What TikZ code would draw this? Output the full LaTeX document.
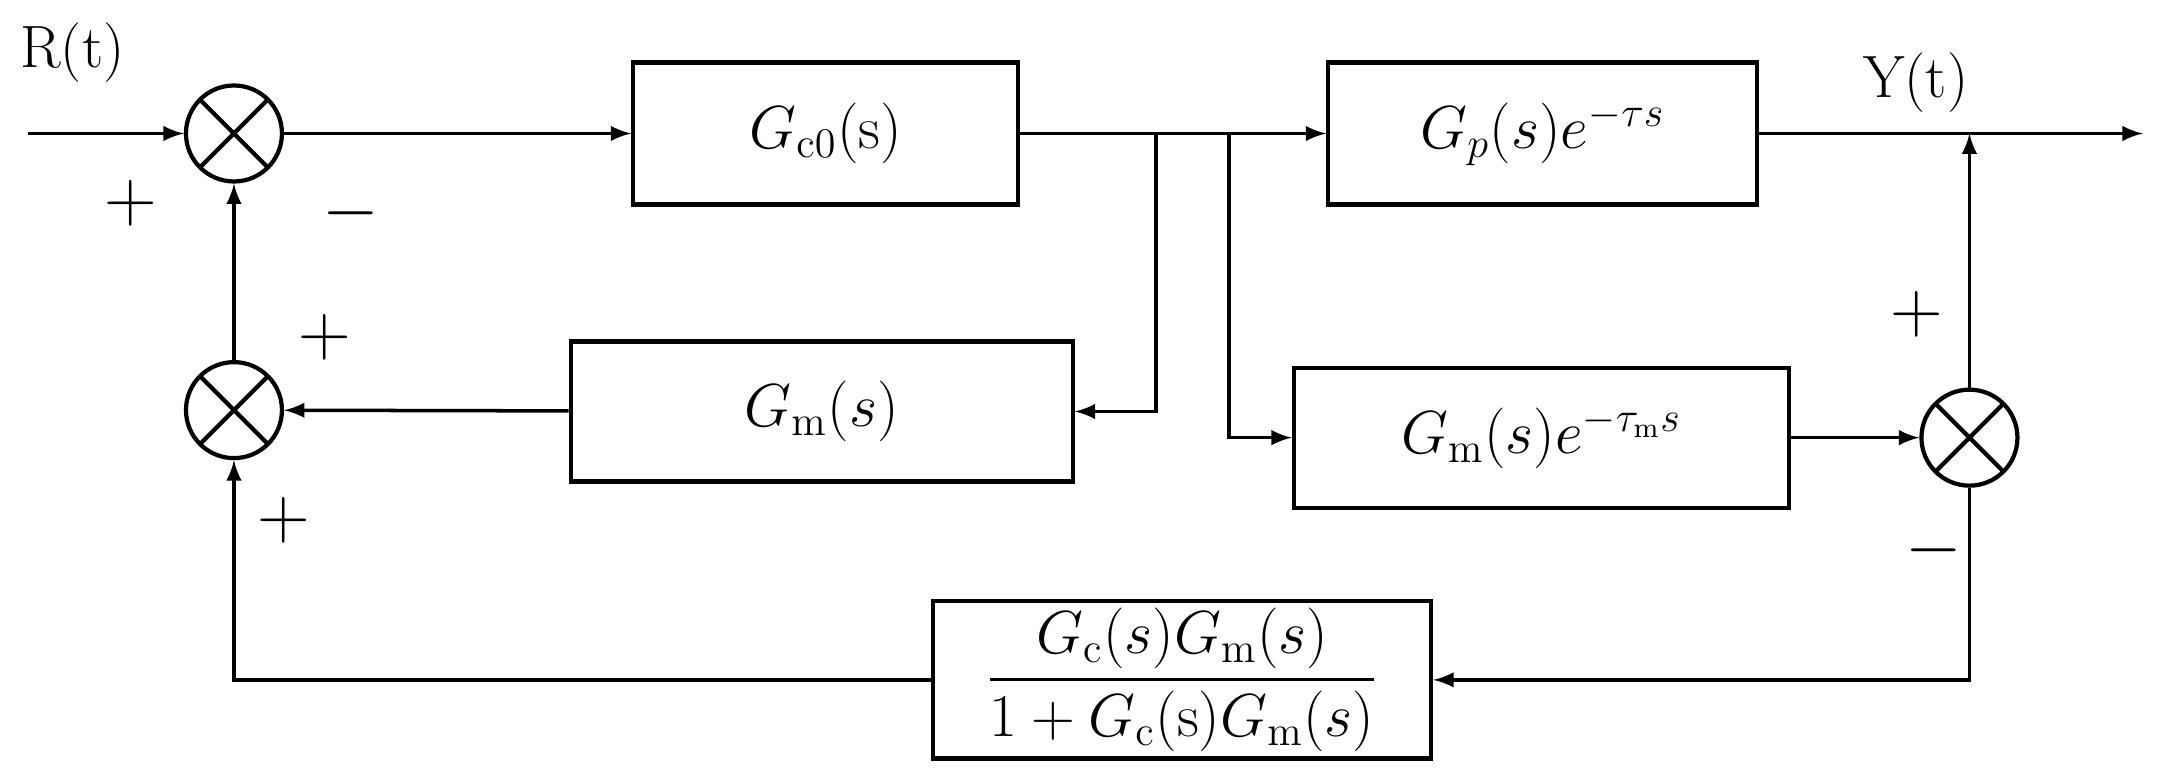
\documentclass[tikz,border=0pt]{standalone}
\usepackage{amsmath,amssymb}
\usetikzlibrary{arrows,positioning,calc}
\begin{document}
\begin{tikzpicture}[->, >=latex, x=0.01376cm, y=-0.01376cm, line width=1pt, font=\fontsize{17}{20}\selectfont]
\tikzstyle{block}=[draw=black, thick, line width=1.2pt, minimum height=1.42cm, inner sep=2pt]
\tikzstyle{sum}=[draw=black, circle, line width=1.2pt, minimum size=0.96cm, inner sep=0pt,
  path picture={\draw[-] (path picture bounding box.north west) -- (path picture bounding box.south east)
                 (path picture bounding box.north east) -- (path picture bounding box.south west);}]
\tikzstyle{sign}=[font=\fontsize{20}{22}\selectfont]
\useasboundingbox (0,0) rectangle (1568,559.6);
% blocks
\node[block, minimum width=3.85cm] (gc0) at (600,97)   {$G_{\mathrm{c0}}(\mathrm{s})$};
\node[block, minimum width=4.29cm] (gp)  at (1121,97)  {$G_p(s)e^{-\tau s}$};
\node[block, minimum width=5.02cm, minimum height=1.40cm] (gm)  at (597,299)  {$G_{\mathrm{m}}(s)$};
\node[block, minimum width=4.95cm, minimum height=1.40cm] (gme) at (1120,318) {$G_{\mathrm{m}}(s)e^{-\tau_{\mathrm{m}}s}$};
\node[block, minimum width=4.98cm, minimum height=1.49cm] (fb)  at (859,494)
  {$\dfrac{G_{\mathrm{c}}(s)G_{\mathrm{m}}(s)}{1+G_{\mathrm{c}}(\mathrm{s})G_{\mathrm{m}}(s)}$};
% summing junctions
\node[sum] (s1) at (170,97)  {};
\node[sum] (s2) at (170,298) {};
\node[sum] (s3) at (1431,318) {};
\coordinate (in)  at (20,97);
\coordinate (out) at (1557,97);
\coordinate (b1)  at (840,97);
\coordinate (b2)  at (893,97);
\coordinate (yt)  at (1431,97);
% labels
\node[anchor=west] (r) at (5,38) {R(t)};
\node (y) at (1392,60) {Y(t)};
\node[sign] (p1) at (95,148)  {$+$};
\node[sign] (m1) at (255,155) {$-$};
\node[sign] (p2) at (236,245) {$+$};
\node[sign] (p3) at (206,378) {$+$};
\node[sign] (p4) at (1393,228) {$+$};
\node[sign] (m3) at (1405,400) {$-$};
% connections
\draw (in) -- (s1);
\draw (s1) -- (gc0);
\draw (gc0) -- (gp);
\draw (gp) -- (out);
\draw (s3) -- (yt);
\draw (b1) |- (gm.east);
\draw (b2) |- (gme.west);
\draw (gme) -- (s3);
\draw (s3) |- (fb.east);
\draw (fb.west) -| (s2);
\draw (gm) -- (s2);
\draw (s2) -- (s1);
\end{tikzpicture}
\end{document}
